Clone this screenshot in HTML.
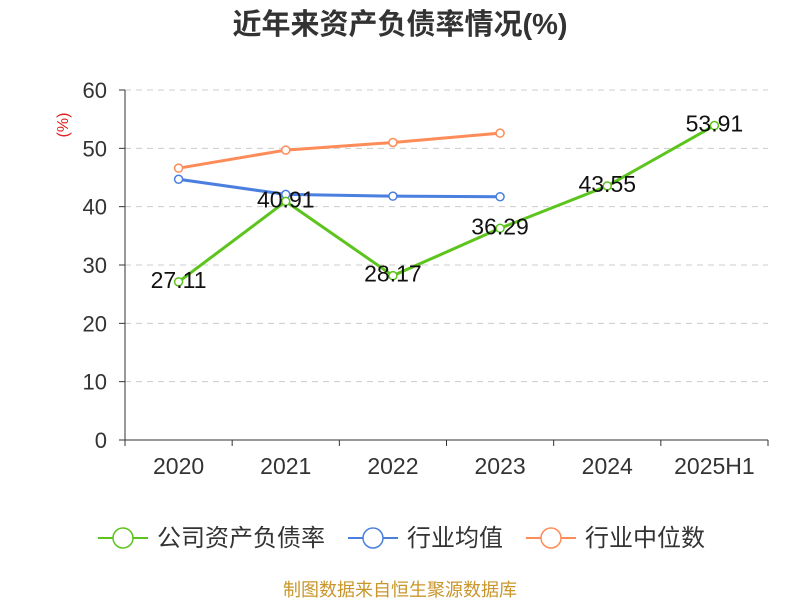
<!DOCTYPE html>
<html><head><meta charset="utf-8"><style>
body{margin:0;background:#fff;}
svg text{font-family:"Liberation Sans","Noto Sans CJK SC",sans-serif;}
</style></head><body>
<svg id="chart" width="800" height="600" viewBox="0 0 800 600">
<text x="400" y="34" text-anchor="middle" font-size="29" font-weight="bold" fill="#333">近年来资产负债率情况(%)</text>
<text x="68" y="125" text-anchor="middle" font-size="16" fill="#e02020" transform="rotate(-90 68 125)">(%)</text>
<g id="grid"></g><g id="axes"></g><g id="series"></g><g id="legend"></g>
<text x="400" y="596" text-anchor="middle" font-size="18" fill="#c8962a">制图数据来自恒生聚源数据库</text>
</svg>
<script>
const categories=["2020","2021","2022","2023","2024","2025H1"];
const companyValues=[27.11,40.91,28.17,36.29,43.55,53.91];
const industryAvg=[44.7,42.1,41.8,41.7];
const industryMedian=[46.6,49.7,51.0,52.6];
const yTicks=[0,10,20,30,40,50,60];
const NS="http://www.w3.org/2000/svg";
const x0=125,x1=768,y0=440,y1=90,yMax=60;
const bw=(x1-x0)/categories.length;
function xs(i){return x0+bw*(i+0.5);}
function ys(v){return y0-(v/yMax)*(y0-y1);}
function mk(tag,attrs,parent,txt){const e=document.createElementNS(NS,tag);for(const k in attrs)e.setAttribute(k,attrs[k]);if(txt!==undefined)e.textContent=txt;parent.appendChild(e);return e;}
const grid=document.getElementById('grid'),axes=document.getElementById('axes'),ser=document.getElementById('series'),leg=document.getElementById('legend');
yTicks.forEach(t=>{
 if(t>0){const g=mk('line',{x1:x0,x2:x1,y1:ys(t),y2:ys(t),stroke:'#ccc','stroke-dasharray':'6,5'},grid);
 
 }
 const tk=mk('line',{x1:x0-6,x2:x0,y1:ys(t),y2:ys(t),stroke:'#333'},axes);
 
 
 const l=mk('text',{x:x0-18,y:ys(t)+8,'text-anchor':'end','font-size':22,fill:'#333'},axes,String(t));
 
 
});
const ya=mk('line',{x1:x0,x2:x0,y1:y1,y2:y0,stroke:'#333'},axes);


const xa=mk('line',{x1:x0,x2:x1,y1:y0,y2:y0,stroke:'#333'},axes);


for(let i=0;i<=categories.length;i++){const t=mk('line',{x1:x0+bw*i,x2:x0+bw*i,y1:y0,y2:y0+6,stroke:'#333'},axes);
 
 }
categories.forEach((c,i)=>{const l=mk('text',{x:xs(i),y:y0+34,'text-anchor':'middle','font-size':23,fill:'#333'},axes,c);
 
 });
function drawSeries(vals,color,name,labels){
 const pts=vals.map((v,i)=>xs(i)+','+ys(v)).join(' ');
 const pl=mk('polyline',{points:pts,fill:'none',stroke:color,'stroke-width':3},ser);
 
 
 vals.forEach((v,i)=>{
  const c=mk('circle',{cx:xs(i),cy:ys(v),r:4,fill:'#fff',stroke:color,'stroke-width':1.5},ser);
  
  
  if(labels){const t=mk('text',{x:xs(i),y:ys(v)+6,'text-anchor':'middle','font-size':23,fill:'#111'},ser,v.toFixed(2));
   
   }
 });
}
drawSeries(industryMedian,'#fd8c58','industry-median',false);
drawSeries(industryAvg,'#4a7fe0','industry-average',false);
drawSeries(companyValues,'#5cc41c','company-debt-ratio',true);
[["公司资产负债率",'#5cc41c',98],["行业均值",'#4a7fe0',348],["行业中位数",'#fd8c58',526]].forEach(([n,c,x],k)=>{
 const g=mk('g',{},leg);
 
 
 mk('line',{x1:x,x2:x+50,y1:538,y2:538,stroke:c,'stroke-width':2},g);
 mk('circle',{cx:x+25,cy:538,r:10,fill:'#fff',stroke:c,'stroke-width':1.5},g);
 mk('text',{x:x+59,y:546,'font-size':24,fill:'#333'},g,n);
});
</script>
</body></html>
